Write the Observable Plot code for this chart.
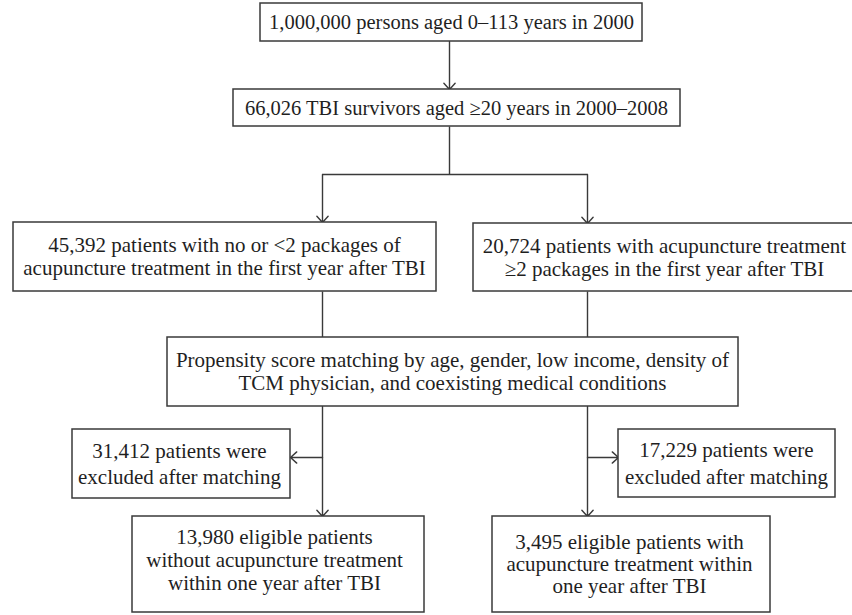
<!DOCTYPE html>
<html>
<head>
<meta charset="utf-8">
<script src="https://cdn.jsdelivr.net/npm/d3@7"></script>
<script src="https://cdn.jsdelivr.net/npm/@observablehq/plot@0.6"></script>
<style>
  html, body { margin: 0; padding: 0; background: #fff; }
  #chart svg { display: block; }
</style>
</head>
<body>
<div id="chart"></div>
<script>
// ---- Chart content (text of each flowchart box) ----
const totalCohort = "1,000,000 persons aged 0–113 years in 2000";
const tbiSurvivors = "66,026 TBI survivors aged ≥20 years in 2000–2008";
const nonAcuGroup = ["45,392 patients with no or <2 packages of", "acupuncture treatment in the first year after TBI"];
const acuGroup = ["20,724 patients with acupuncture treatment", "≥2 packages in the first year after TBI"];
const matching = ["Propensity score matching by age, gender, low income, density of", "TCM physician, and coexisting medical conditions"];
const excludedNonAcu = ["31,412 patients were", "excluded after matching"];
const excludedAcu = ["17,229 patients were", "excluded after matching"];
const finalNonAcu = ["13,980 eligible patients", "without acupuncture treatment", "within one year after TBI"];
const finalAcu = ["3,495 eligible patients with", "acupuncture treatment within", "one year after TBI"];

const boxTexts = [[totalCohort], [tbiSurvivors], nonAcuGroup, acuGroup, matching,
                  excludedNonAcu, excludedAcu, finalNonAcu, finalAcu];

// ---- Layout (diagram coordinate system, 852 x 615 units) ----
const boxLayout = [
  {x1: 260, x2: 642, y1: 3,   y2: 41,  tx: 451, gap: 23, size: 20.5},
  {x1: 233, x2: 680, y1: 89,  y2: 126, tx: 456, gap: 23, size: 20.5},
  {x1: 13,  x2: 436, y1: 222, y2: 291, tx: 224, gap: 23, size: 21},
  {x1: 473, x2: 860, y1: 223, y2: 291, tx: 664, gap: 23, size: 21},
  {x1: 167, x2: 738, y1: 337, y2: 406, tx: 452, gap: 23, size: 21},
  {x1: 72,  x2: 290, y1: 429, y2: 498, tx: 179, gap: 26, size: 21},
  {x1: 618, x2: 835, y1: 429, y2: 497, tx: 726, gap: 27, size: 21},
  {x1: 132, x2: 424, y1: 516, y2: 612, tx: 274, gap: 23, size: 21, dy: -4},
  {x1: 492, x2: 770, y1: 516, y2: 612, tx: 629, gap: 22, size: 21}
];

const connectorLines = [
  {x1: 449, y1: 126, x2: 449, y2: 174},
  {x1: 322, y1: 174, x2: 587, y2: 174},
  {x1: 322, y1: 291, x2: 322, y2: 337},
  {x1: 587, y1: 291, x2: 587, y2: 337}
];
const connectorArrows = [
  {x1: 449, y1: 41,  x2: 449, y2: 89},
  {x1: 322, y1: 174, x2: 322, y2: 222},
  {x1: 587, y1: 174, x2: 587, y2: 223},
  {x1: 322, y1: 406, x2: 322, y2: 516},
  {x1: 587, y1: 406, x2: 587, y2: 516},
  {x1: 322, y1: 457, x2: 290, y2: 457},
  {x1: 587, y1: 457, x2: 618, y2: 457}
];

const boxes = boxLayout.map((b, i) => ({...b, lines: boxTexts[i]}));
const textRows = boxes.flatMap(b => b.lines.map((t, j) => ({
  text: t,
  x: b.tx,
  y: (b.y1 + b.y2) / 2 + (b.dy || 0) + (j - (b.lines.length - 1) / 2) * b.gap,
  size: b.size
})));

const ink = "#3a3a3a";
const textInk = "#1f1f1f";

const chart = Plot.plot({
  width: 852,
  height: 615,
  margin: 0,
  x: {domain: [0, 852], range: [0, 852], axis: null},
  y: {domain: [0, 615], range: [0, 615], axis: null},
  style: {background: "#ffffff", fontFamily: "'Liberation Serif', serif"},
  marks: [
    Plot.link(connectorLines, {x1: "x1", y1: "y1", x2: "x2", y2: "y2", stroke: ink, strokeWidth: 1.4}),
    Plot.arrow(connectorArrows, {x1: "x1", y1: "y1", x2: "x2", y2: "y2", stroke: ink, strokeWidth: 1.4, headLength: 9, headAngle: 84, insetEnd: 0, insetStart: 0}),
    Plot.rect(boxes, {x1: "x1", x2: "x2", y1: "y1", y2: "y2", fill: "#ffffff", stroke: ink, strokeWidth: 1.5}),
    Plot.text(textRows.filter(d => d.size === 20.5), {x: "x", y: "y", text: "text", fill: textInk, fontSize: 20.5, textAnchor: "middle", lineAnchor: "middle"}),
    Plot.text(textRows.filter(d => d.size === 21), {x: "x", y: "y", text: "text", fill: textInk, fontSize: 21, textAnchor: "middle", lineAnchor: "middle"})
  ]
});
document.getElementById("chart").appendChild(chart);
</script>
</body>
</html>
